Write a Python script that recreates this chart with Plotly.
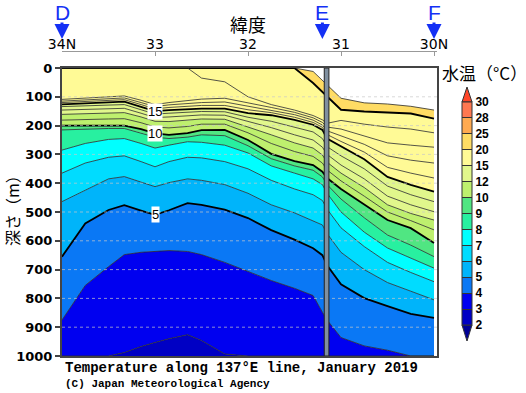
import plotly.graph_objects as go

# ---------------- data ----------------
LAT = [34.0, 33.75, 33.5, 33.33, 33.15, 33.0, 32.85, 32.65, 32.5, 32.25, 32.0,
       31.75, 31.5, 31.3, 31.2, 31.15, 31.0, 30.75, 30.5, 30.25, 30.0]

# depth (m) of each isotherm at every latitude above (0 = at surface, 1000 = below bottom)
ISO_21 = [0, 0, 0, 0, 0, 0, 0, 0, 0, 0, 0, 0, 0, 12, 44, 58, 105, 121, 125, 133, 146]
ISO_20 = [0, 0, 0, 0, 0, 0, 0, 0, 0, 0, 0, 0, 0, 52, 83, 95, 145, 151, 154, 158, 176]
ISO_19 = [0, 0, 0, 0, 0, 0, 0, 0, 35, 48, 100, 127, 146, 165, 180, 192, 182, 195, 205, 212, 225]
ISO_18 = [109, 104, 100, 97, 112, 127, 120, 113, 108, 105, 120, 137, 154, 173, 189, 205, 212, 235, 260, 268, 275]
ISO_17 = [115, 110, 106, 104, 120, 134, 128, 123, 120, 118, 133, 146, 162, 181, 198, 218, 235, 265, 305, 320, 330]
ISO_16 = [120, 116, 112, 110, 127, 142, 137, 132, 130, 130, 145, 155, 171, 189, 206, 231, 255, 292, 345, 365, 382]
ISO_15 = [126, 122, 119, 117, 135, 150, 146, 142, 141, 141, 157, 164, 180, 197, 215, 245, 273, 317, 378, 406, 429]
ISO_14 = [134, 131, 129, 127, 145, 160, 157, 153, 151, 152, 171, 185, 205, 222, 245, 273, 305, 350, 410, 440, 464]
ISO_13 = [146, 143, 141, 140, 157, 172, 170, 166, 163, 164, 186, 207, 232, 250, 275, 300, 337, 385, 445, 475, 499]
ISO_12 = [161, 158, 156, 155, 170, 185, 186, 182, 177, 178, 204, 232, 260, 278, 302, 327, 365, 415, 475, 505, 528]
ISO_11 = [181, 178, 177, 176, 190, 205, 208, 203, 195, 195, 225, 262, 290, 307, 330, 354, 392, 445, 500, 530, 562]
ISO_10 = [200, 200, 200, 200, 212, 227, 232, 226, 216, 215, 250, 298, 323, 337, 360, 382, 420, 474, 528, 556, 608]
ISO_9 = [215, 212, 210, 210, 225, 240, 245, 240, 232, 235, 270, 315, 340, 355, 378, 405, 455, 520, 580, 615, 655]
ISO_8 = [285, 262, 248, 245, 262, 278, 268, 256, 258, 268, 295, 340, 365, 385, 405, 435, 500, 570, 625, 660, 695]
ISO_7 = [365, 330, 310, 305, 325, 343, 325, 310, 312, 325, 350, 390, 420, 440, 460, 490, 555, 620, 675, 710, 742]
ISO_6 = [464, 425, 385, 377, 395, 412, 398, 385, 390, 405, 435, 475, 503, 530, 545, 575, 640, 700, 745, 775, 805]
ISO_5 = [655, 540, 493, 476, 495, 510, 494, 469, 475, 492, 521, 563, 596, 626, 650, 685, 751, 799, 827, 854, 868]
ISO_4 = [875, 755, 690, 648, 640, 636, 634, 637, 648, 675, 707, 738, 765, 790, 848, 875, 936, 965, 980, 1000, 1000]
ISO_3 = [1000, 1000, 1000, 988, 967, 953, 940, 926, 946, 993, 1000, 1000, 1000, 1000, 1000, 1000, 1000, 1000, 1000, 1000, 1000]

ISOTHERMS = [(21, ISO_21), (20, ISO_20), (19, ISO_19), (18, ISO_18), (17, ISO_17),
             (16, ISO_16), (15, ISO_15), (14, ISO_14), (13, ISO_13), (12, ISO_12),
             (11, ISO_11), (10, ISO_10), (9, ISO_9), (8, ISO_8), (7, ISO_7),
             (6, ISO_6), (5, ISO_5), (4, ISO_4), (3, ISO_3)]
THICK = [5, 10, 15, 20]

# colour classes of the legend
LEVELS = [2, 3, 4, 5, 6, 7, 8, 9, 10, 12, 15, 20, 25, 28, 30]
BAND_COLORS = ['#0000C4', '#0000F0', '#0A78F5', '#00B4FA', '#00DCFF', '#00FFFF',
               '#28F0A0', '#50E682', '#BEF06E', '#E1F78C', '#FFFA96', '#FFDC64',
               '#FFAA50', '#FF7850']
OVER_COLOR, UNDER_COLOR = '#FF4628', '#000096'

DEPTH_RANGE = [1000, 0]
DEPTH_TICKS = [0, 100, 200, 300, 400, 500, 600, 700, 800, 900, 1000]
LAT_TICKS = [34, 33, 32, 31, 30]
LAT_TICKTEXT = ['34N', '33', '32', '31', '30N']
LINE_LABELS = [(33.0, 151, '15'), (33.0, 227, '10'), (33.0, 510, '5')]
STATIONS = [(34.0, 'D'), (31.2, 'E'), (30.0, 'F')]
GAP_LAT = (31.18, 31.13)

# ---------------- layout helpers (pixel -> paper) ----------------
W, H = 526, 393
PL, PR, PT, PB = 62, 437, 51, 356
def px(x):
    return (x - PL) / (PR - PL)
def py(y):
    return (PB - y) / (PB - PT)

def band_color(t):
    for i in range(len(LEVELS) - 1):
        if LEVELS[i] <= t < LEVELS[i + 1]:
            return BAND_COLORS[i]
    return OVER_COLOR if t >= LEVELS[-1] else UNDER_COLOR

fig = go.Figure()

surface = [DEPTH_RANGE[1] for _ in LAT]
bottom = [DEPTH_RANGE[0] for _ in LAT]

# filled bands (top boundary first, each trace fills up to the previous one)
fig.add_trace(go.Scatter(x=LAT, y=surface, mode='none', hoverinfo='skip', showlegend=False))
for t, d in ISOTHERMS:
    fig.add_trace(go.Scatter(x=LAT, y=d, mode='none', fill='tonexty',
                             fillcolor=band_color(t), hoverinfo='skip', showlegend=False))
fig.add_trace(go.Scatter(x=LAT, y=bottom, mode='none', fill='tonexty',
                         fillcolor=band_color(ISOTHERMS[-1][0] - 1), hoverinfo='skip',
                         showlegend=False))

# isotherm lines
for t, d in ISOTHERMS:
    thick = t in THICK
    fig.add_trace(go.Scatter(x=LAT, y=d, mode='lines',
                             line=dict(color='#000000' if thick else '#2a2a2a',
                                       width=1.8 if thick else 0.8),
                             hoverinfo='skip', showlegend=False))

# colour legend (dummy trace carrying the colour bar)
cs = []
n = len(BAND_COLORS)
for i, c in enumerate(BAND_COLORS):
    cs.append([i / n, c])
    cs.append([(i + 1) / n, c])
fig.add_trace(go.Scatter(
    x=[None], y=[None], mode='markers', hoverinfo='skip', showlegend=False,
    marker=dict(color=[0], cmin=0, cmax=n, colorscale=cs, showscale=True,
                colorbar=dict(x=px(462), xanchor='left', xpad=0,
                              y=py(102), yanchor='top', ypad=0,
                              len=223, lenmode='pixels', thickness=10,
                              tickvals=list(range(len(LEVELS))),
                              ticktext=[str(v) for v in LEVELS],
                              ticks='inside', ticklen=10, tickcolor='#333', tickwidth=1,
                              outlinecolor='#333', outlinewidth=1,
                              tickfont=dict(family='Liberation Sans', size=12,
                                            color='black', weight='bold')))))

# top latitude axis carrier
fig.add_trace(go.Scatter(x=[LAT[0], LAT[-1]], y=[0, 0], xaxis='x2', mode='markers',
                         marker=dict(opacity=0), hoverinfo='skip', showlegend=False))

xr = [LAT[0], LAT[0] - (PR - PL) / 93.0]

fig.update_layout(
    width=W, height=H,
    margin=dict(l=PL, r=W - PR, t=PT, b=H - PB, autoexpand=False),
    paper_bgcolor='white', plot_bgcolor='white',
    xaxis=dict(range=xr, showticklabels=False, ticks='', showgrid=False, zeroline=False,
               showline=True, linecolor='#444', linewidth=2, mirror=True),
    xaxis2=dict(range=xr, overlaying='x', side='top', anchor='free', position=1,
                tickvals=LAT_TICKS, ticktext=LAT_TICKTEXT, ticks='inside', ticklen=4,
                tickcolor='#999', showline=True, linecolor='#999', linewidth=1,
                showgrid=False, zeroline=False, ticklabelstandoff=-4,
                tickfont=dict(family='DejaVu Sans', size=14, color='black')),
    yaxis=dict(range=DEPTH_RANGE, domain=[0, py(68)], tickvals=DEPTH_TICKS,
               ticks='outside', ticklen=5, tickcolor='#444', tickwidth=1.5,
               showline=True, linecolor='#444', linewidth=2, mirror=True,
               showgrid=False, zeroline=False,
               tickfont=dict(family='DejaVu Sans', size=13, color='black', weight='bold')),
)

shapes = []
# dotted depth grid
for dv in DEPTH_TICKS[1:-1]:
    shapes.append(dict(type='line', xref='paper', x0=0, x1=1, yref='y', y0=dv, y1=dv,
                       line=dict(color='rgba(200,200,200,0.7)', width=1, dash='dot')))
# data gap bar at station E
shapes.append(dict(type='rect', xref='x', x0=GAP_LAT[0], x1=GAP_LAT[1], yref='y',
                   y0=DEPTH_RANGE[1], y1=DEPTH_RANGE[0], fillcolor='#8090A0',
                   line=dict(color='#222', width=1)))
# colour-bar end triangles
shapes.append(dict(type='path', xref='paper', yref='paper',
                   path=f'M {px(462)},{py(102)} L {px(472)},{py(102)} L {px(467)},{py(87)} Z',
                   fillcolor=OVER_COLOR, line=dict(color='#333', width=1)))
shapes.append(dict(type='path', xref='paper', yref='paper',
                   path=f'M {px(462)},{py(325)} L {px(472)},{py(325)} L {px(467)},{py(341)} Z',
                   fillcolor=UNDER_COLOR, line=dict(color='#333', width=1)))
fig.update_layout(shapes=shapes)

ann = []
for lat, dep, txt in LINE_LABELS:
    ann.append(dict(x=lat, y=dep, xref='x', yref='y', text=txt, showarrow=False,
                    bgcolor='white', borderpad=0,
                    font=dict(family='Liberation Sans', size=13, color='black')))
for lat, txt in STATIONS:
    ann.append(dict(x=lat, y=py(39), xref='x', yref='paper', text=txt, showarrow=True,
                    ax=0, ay=-27, arrowhead=2, arrowsize=1, arrowwidth=3,
                    arrowcolor='#1430F5', standoff=0, height=20, borderpad=0,
                    valign='middle',
                    font=dict(family='Liberation Sans', size=21, color='#1430F5')))
ann.append(dict(x=px(248), y=py(24), xref='paper', yref='paper', text='緯度',
                xanchor='center', yanchor='middle', showarrow=False,
                font=dict(family='Noto Sans CJK JP', size=18, color='black')))
ann.append(dict(x=px(484), y=py(72), xref='paper', yref='paper', text='水温（°C）',
                xanchor='center', yanchor='middle', showarrow=False,
                font=dict(family='Noto Sans CJK JP', size=17, color='black')))
ann.append(dict(x=px(12), y=py(207), xref='paper', yref='paper', text='深さ（m）',
                xanchor='center', yanchor='middle', textangle=-90, showarrow=False,
                font=dict(family='Noto Sans CJK JP', size=16, color='black')))
ann.append(dict(x=px(63), y=py(368), xref='paper', yref='paper', xanchor='left',
                yanchor='middle', text='Temperature along 137°E line, January 2019',
                showarrow=False,
                font=dict(family='Liberation Mono', size=14, color='black', weight='bold')))
ann.append(dict(x=px(63), y=py(384), xref='paper', yref='paper', xanchor='left',
                yanchor='middle', text='(C) Japan Meteorological Agency', showarrow=False,
                font=dict(family='Liberation Mono', size=11, color='black', weight='bold')))
fig.update_layout(annotations=ann)

fig.write_html('out.html', config={'displayModeBar': False},
               post_script="document.body.style.margin='0px';document.body.style.padding='0px';")
